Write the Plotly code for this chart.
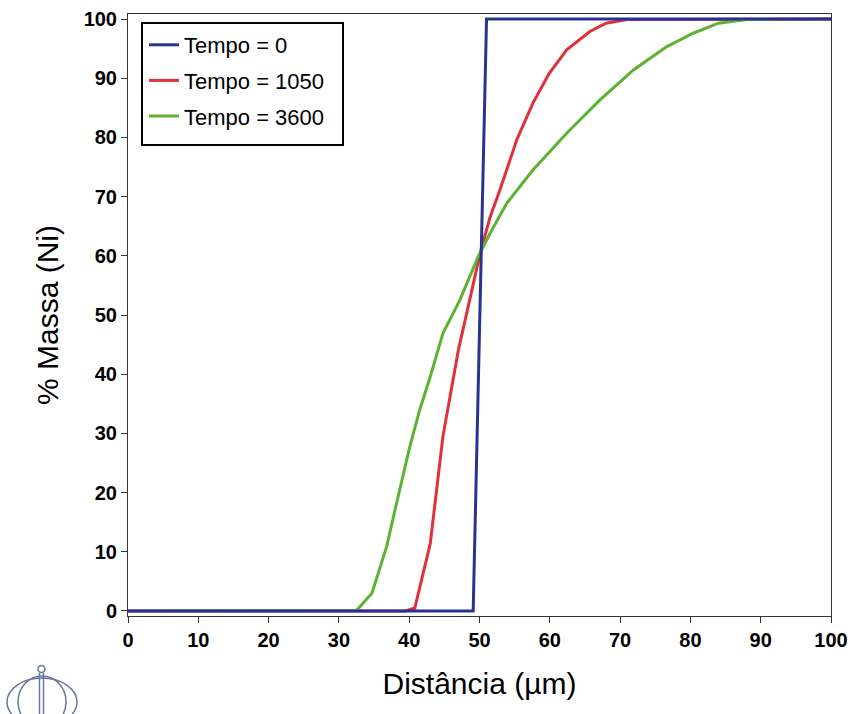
import plotly.graph_objects as go

# Data
blue_x = [0, 49.1, 51.0, 100]
blue_y = [0, 0, 100, 100]

red_x = [0, 39.5, 40.8, 43.0, 44.8, 47.0, 48.6, 50.1, 51.5, 52.9, 55.3, 57.6, 59.9, 62.4, 65.7, 68.0, 71.0, 100]
red_y = [0, 0, 0.5, 11.4, 29.5, 44.1, 52.5, 60.5, 66.5, 71.1, 79.6, 85.8, 90.8, 94.8, 97.9, 99.3, 99.9, 100]

green_x = [0, 32.5, 34.7, 36.8, 38.2, 40.1, 41.5, 43.0, 44.8, 47.2, 49.8, 51.5, 53.9, 57.6, 62.4, 67.1, 71.9, 76.6, 80.4, 84.0, 88.0, 100]
green_y = [0, 0.1, 3.0, 10.9, 18.2, 27.8, 34.0, 39.6, 46.9, 52.5, 59.8, 63.8, 68.9, 74.5, 80.7, 86.3, 91.4, 95.3, 97.6, 99.3, 99.9, 100]

series_names = ["Tempo = 0", "Tempo = 1050", "Tempo = 3600"]
x_ticks = list(range(0, 101, 10))
y_ticks = list(range(0, 101, 10))

colors = ["#27338F", "#E0303C", "#5DB233"]
series = [(blue_x, blue_y), (red_x, red_y), (green_x, green_y)]

fig = go.Figure()
# draw red and green first so the blue step stays on top along the baseline
for i in [1, 2, 0]:
    xs, ys = series[i]
    fig.add_trace(go.Scatter(x=xs, y=ys, mode="lines", name=series_names[i],
                             line=dict(color=colors[i], width=3),
                             legendgroup=f"g{i}", legendrank=i + 1))

FONT = "Liberation Sans, Arial, sans-serif"

W, H = 853, 714
L, R, T, B = 128, 22, 14, 98
pw, ph = W - L - R, H - T - B

def px(x):
    return (x - L) / pw

def py(y):
    return (H - B - y) / ph

logo_color = "#6A76A0"
shapes = [
    # legend frame
    dict(type="rect", xref="paper", yref="paper", x0=px(142), x1=px(343), y0=py(145), y1=py(23),
         line=dict(color="black", width=2), fillcolor="white", layer="above"),
    # logo
    dict(type="circle", xref="paper", yref="paper", x0=px(7), x1=px(77), y0=py(726), y1=py(678),
         line=dict(color=logo_color, width=1.5)),
    dict(type="circle", xref="paper", yref="paper", x0=px(18), x1=px(66), y0=py(728), y1=py(676),
         line=dict(color=logo_color, width=1.5)),
    dict(type="line", xref="paper", yref="paper", x0=px(39.5), x1=px(39.5), y0=py(673), y1=py(714),
         line=dict(color=logo_color, width=1.5)),
    dict(type="line", xref="paper", yref="paper", x0=px(43.5), x1=px(43.5), y0=py(673), y1=py(714),
         line=dict(color=logo_color, width=1.5)),
    dict(type="circle", xref="paper", yref="paper", x0=px(38), x1=px(45), y0=py(672.5), y1=py(665.5),
         line=dict(color=logo_color, width=1.5)),
]

fig.update_layout(
    width=W, height=H,
    margin=dict(l=L, r=R, t=T, b=B, autoexpand=False),
    paper_bgcolor="white", plot_bgcolor="white",
    font=dict(family=FONT, color="black"),
    showlegend=True,
    legend=dict(x=px(144), y=py(24), xanchor="left", yanchor="top",
                borderwidth=0, bgcolor="rgba(0,0,0,0)", traceorder="grouped",
                font=dict(family=FONT, size=22, color="black"),
                tracegroupgap=4, itemwidth=30),
    shapes=shapes,
    xaxis=dict(range=[0, 100], tickvals=x_ticks, showgrid=False, zeroline=False,
               showline=True, linecolor="#333", linewidth=1, mirror=True,
               ticks="outside", ticklen=6, tickcolor="#333",
               tickfont=dict(family=FONT, size=20, weight="bold"),
               title=dict(text="Distância (µm)", font=dict(family=FONT, size=30), standoff=22)),
    yaxis=dict(range=[-0.85, 100.85], tickvals=y_ticks, showgrid=False, zeroline=False,
               showline=True, linecolor="#333", linewidth=1, mirror=True,
               ticks="outside", ticklen=6, tickcolor="#333",
               tickfont=dict(family=FONT, size=20, weight="bold"),
               title=dict(text="% Massa (Ni)", font=dict(family=FONT, size=30), standoff=16)),
)

fig.write_html("out.html", config={"displayModeBar": False},
               post_script="document.body.style.margin='0';")
